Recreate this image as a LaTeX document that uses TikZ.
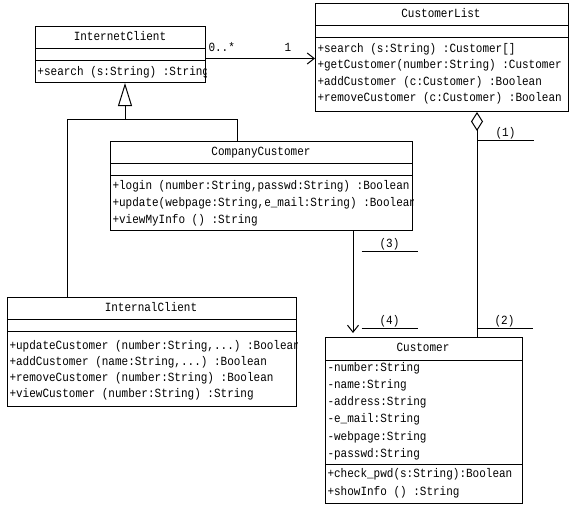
\documentclass[tikz,border=0pt]{standalone}
\usepackage{fontspec}
\setmonofont[FakeStretch=0.88]{Liberation Mono}
\usetikzlibrary{arrows.meta}

\tikzset{
  classbox/.style={draw, anchor=north west, inner sep=0pt},
  uml/.style={font=\ttfamily\fontsize{12.5}{14}\selectfont, inner sep=0pt, text height=9pt, text depth=2.5pt},
  member/.style={uml, anchor=west},
  blank/.style={uml, anchor=south, inner sep=1pt, minimum width=55pt},
  nav/.style={-{Straight Barb[length=7pt,width=11pt]}},
  inherit/.style={-{Triangle[open,length=23pt,width=14pt]}},
  aggr/.style={{Diamond[open,length=19pt,width=12pt]}-},
}

\begin{document}
\begin{tikzpicture}[x=1pt,y=-1pt,line width=1pt]
\useasboundingbox (0,0) rectangle (579,506);

% InternetClient
\node[classbox, minimum width=170pt, minimum height=56pt] (inetc) at (35,26) {};
\draw (inetc.north west) ++(0,22) -- ++(170,0);
\draw (inetc.north west) ++(0,34) -- ++(170,0);
\node[uml] (inetc-name) at (120,37) {InternetClient};
\begin{scope}
\clip (inetc.south west) rectangle (inetc.north east);
\node[member] (inetc-m1) at (37,72) {+search (s:String) :String};
\end{scope}

% CustomerList
\node[classbox, minimum width=253pt, minimum height=108pt] (clist) at (315,3) {};
\draw (clist.north west) ++(0,22) -- ++(253,0);
\draw (clist.north west) ++(0,34) -- ++(253,0);
\node[uml] (clist-name) at (441,14) {CustomerList};
\begin{scope}
\clip (clist.south west) rectangle (clist.north east);
\node[member] (clist-m1) at (317,49) {+search (s:String) :Customer[]};
\node[member] (clist-m2) at (317,65) {+getCustomer(number:String) :Customer};
\node[member] (clist-m3) at (317,82) {+addCustomer (c:Customer) :Boolean};
\node[member] (clist-m4) at (317,98) {+removeCustomer (c:Customer) :Boolean};
\end{scope}

% CompanyCustomer
\node[classbox, minimum width=302pt, minimum height=89pt] (compc) at (110,141) {};
\draw (compc.north west) ++(0,22) -- ++(302,0);
\draw (compc.north west) ++(0,34) -- ++(302,0);
\node[uml] (compc-name) at (261,152) {CompanyCustomer};
\begin{scope}
\clip (compc.south west) rectangle (compc.north east);
\node[member] (compc-m1) at (112,186) {+login (number:String,passwd:String) :Boolean};
\node[member] (compc-m2) at (112,203) {+update(webpage:String,e\_mail:String) :Boolean};
\node[member] (compc-m3) at (112,220) {+viewMyInfo () :String};
\end{scope}

% InternalClient
\node[classbox, minimum width=289pt, minimum height=109pt] (intc) at (7,297) {};
\draw (intc.north west) ++(0,22) -- ++(289,0);
\draw (intc.north west) ++(0,34) -- ++(289,0);
\node[uml] (intc-name) at (151,308) {InternalClient};
\begin{scope}
\clip (intc.south west) rectangle (intc.north east);
\node[member] (intc-m1) at (9,346) {+updateCustomer (number:String,...) :Boolean};
\node[member] (intc-m2) at (9,362) {+addCustomer (name:String,...) :Boolean};
\node[member] (intc-m3) at (9,378) {+removeCustomer (number:String) :Boolean};
\node[member] (intc-m4) at (9,394) {+viewCustomer (number:String) :String};
\end{scope}

% Customer
\node[classbox, minimum width=197pt, minimum height=166pt] (cust) at (325,337) {};
\draw (cust.north west) ++(0,23) -- ++(197,0);
\draw (cust.north west) ++(0,127) -- ++(197,0);
\node[uml] (cust-name) at (423,348) {Customer};
\begin{scope}
\clip (cust.south west) rectangle (cust.north east);
\node[member] (cust-a1) at (327,368) {-number:String};
\node[member] (cust-a2) at (327,385) {-name:String};
\node[member] (cust-a3) at (327,402) {-address:String};
\node[member] (cust-a4) at (327,419) {-e\_mail:String};
\node[member] (cust-a5) at (327,437) {-webpage:String};
\node[member] (cust-a6) at (327,454) {-passwd:String};
\node[member] (cust-m1) at (327,474) {+check\_pwd(s:String):Boolean};
\node[member] (cust-m2) at (327,492) {+showInfo () :String};
\end{scope}

% association InternetClient -> CustomerList
\draw[nav] ([yshift=-4pt]inetc.east) -- ([yshift=-4pt]inetc.east -| clist.west);
\node[uml, anchor=south west] (mult-from) at (208,55) {0..*};
\node[uml, anchor=south] (mult-to) at (288,55) {1};

% generalization
\coordinate (gen) at (125,119);
\coordinate (genL) at (67,119);
\coordinate (genR) at (237,119);
\draw[inherit] (gen) -- (gen |- inetc.south);
\draw (genL |- intc.north) -- (genL) -- (genR) -- (genR |- compc.north);

% CompanyCustomer -> Customer
\coordinate (navx) at (353,0);
\draw[nav, shorten >=4pt] (compc.south -| navx) -- (cust.north -| navx);

% aggregation CustomerList <>- Customer
\coordinate (aggx) at (477,0);
\draw[aggr] (clist.south -| aggx) -- (cust.north -| aggx);

% blanks
\node[blank] (b1) at (505.5,140) {(1)};
\node[blank] (b2) at (504.5,328) {(2)};
\node[blank] (b3) at (389.5,251) {(3)};
\node[blank] (b4) at (389.5,328) {(4)};
\foreach \b in {b1,b2,b3,b4}
  \draw (\b.south west) -- (\b.south east);
\end{tikzpicture}
\end{document}
